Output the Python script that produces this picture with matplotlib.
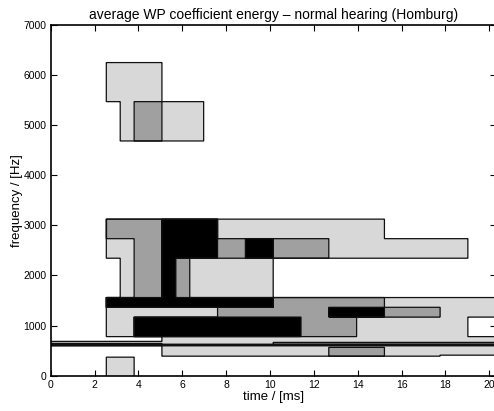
import numpy as np
import matplotlib
matplotlib.use("Agg")
import matplotlib.pyplot as plt

plt.rcParams['font.family'] = ['Liberation Sans', 'DejaVu Sans']

# time unit of one tile column (ms), 32 columns in total
unit = 0.634
n_cols = 32

# tiles: start/end column, low/high frequency (Hz), energy level (0 white .. 3 black)
# later tiles are painted over earlier ones
t_start = [4, 5, 6,
           4, 8, 12,
           4, 6, 8, 12, 14, 16, 20,
           5, 6, 8, 9, 10,
           4, 16, 24,
           4, 12, 20, 24, 28,
           4, 6, 18, 22,
           8, 20, 28, 0, 0, 16, 4]
t_end = [8, 11, 8,
         8, 12, 24,
         6, 8, 12, 14, 16, 20, 30,
         6, 8, 9, 10, 16,
         16, 24, 32,
         12, 20, 24, 28, 32,
         6, 18, 22, 30,
         32, 24, 32, 32, 8, 32, 6]
f_low = [5469, 4687, 4687,
         2734, 2734, 2734,
         2344, 2344, 2344, 2344, 2344, 2344, 2344,
         1562, 1562, 1562, 1562, 1562,
         1367, 1367, 1367,
         1172, 1172, 1172, 1172, 1172,
         781, 781, 781, 781,
         390, 390, 390, 598, 645, 630, 0]
f_high = [6250, 5469, 5469,
          3125, 3125, 3125,
          2734, 2734, 2734, 2734, 2734, 2734, 2734,
          2344, 2344, 2344, 2344, 2344,
          1562, 1562, 1562,
          1367, 1367, 1367, 1367, 1367,
          1172, 1172, 1172, 1172,
          781, 565, 410, 625, 685, 665, 370]
level = [1, 1, 2,
         2, 3, 1,
         1, 2, 3, 2, 3, 2, 1,
         1, 2, 3, 2, 1,
         3, 2, 1,
         1, 2, 3, 2, 1,
         1, 3, 2, 1,
         1, 2, 0, 3, 1, 0, 1]

t_max = n_cols * unit
dt = unit / 16
df = 5.0
t_nodes = np.concatenate([[0], np.arange(dt / 2, t_max, dt), [t_max]])
f_nodes = np.concatenate([[0], np.arange(df / 2, 7000, df), [7000]])
tt, ff = np.meshgrid(t_nodes, f_nodes)
z = np.zeros_like(tt)
for a, b, lo, hi, lv in zip(t_start, t_end, f_low, f_high, level):
    m = (tt >= a * unit) & (tt <= b * unit) & (ff >= lo) & (ff <= hi)
    z[m] = lv

fig = plt.figure(figsize=(4.94, 4.11), dpi=100)
ax = fig.add_axes([0.1026, 0.0859, 0.9008, 0.8533])
ax.contourf(tt, ff, z, levels=[-0.5, 0.5, 1.5, 2.5, 3.5],
            colors=['white', '#d8d8d8', '#a0a0a0', 'black'])
ax.contour(tt, ff, z, levels=[0.5, 1.5, 2.5], colors='#111111', linewidths=0.9)

ax.set_xlim(0, t_max)
ax.set_ylim(0, 7000)
ax.set_xticks(np.arange(0, 21, 2))
ax.set_yticks(np.arange(0, 7001, 1000))
ax.tick_params(direction='in', top=True, right=True, length=4, width=0.8,
               labelsize=7.5, pad=3)
for s in ax.spines.values():
    s.set_linewidth(1.2)

ax.set_title('average WP coefficient energy \u2013 normal hearing (Homburg)',
             fontsize=10, pad=4)
ax.set_xlabel('time / [ms]', fontsize=9.5, labelpad=1)
ax.set_ylabel('frequency / [Hz]', fontsize=9.5, labelpad=0)

fig.savefig('out.png', dpi=100)
